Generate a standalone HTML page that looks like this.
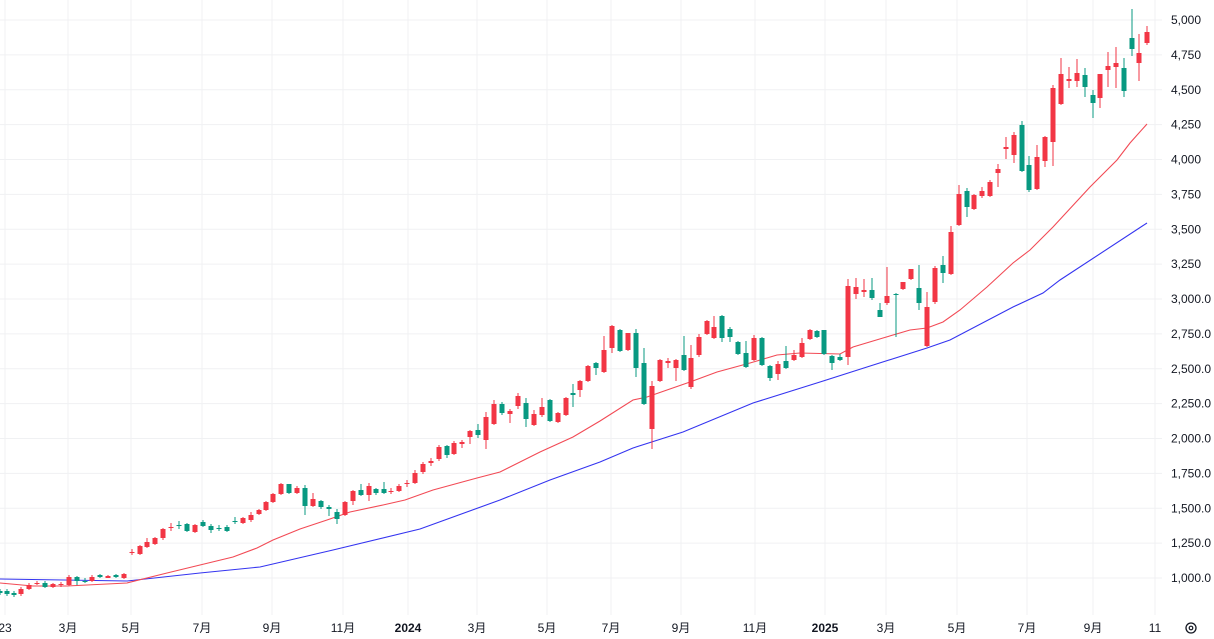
<!DOCTYPE html>
<html><head><meta charset="utf-8"><style>
html,body{margin:0;padding:0;background:#fff;width:1214px;height:639px;overflow:hidden}
svg{display:block}
text{font-family:"Liberation Sans","Noto Sans CJK SC",sans-serif;font-size:12px;fill:#131722}
</style></head><body>
<svg id="s" width="1214" height="639" xmlns="http://www.w3.org/2000/svg"></svg>
<script>
const S=document.getElementById('s');let h='';
const R='#f23645',G='#089981';
// horizontal grid + price labels
const pv=[5000,4750,4500,4250,4000,3750,3500,3250,3000,2750,2500,2250,2000,1750,1500,1250,1000];
pv.forEach(p=>{const y=20+(5000-p)*0.1395;h+=`<line x1="0" x2="1162" y1="${y}" y2="${y}" stroke="#f0f1f3"/>`;
let s=p.toLocaleString('en-US');if(p<=3000)s+='.0';h+=`<text x="1171" y="${y+4}">${s}</text>`;});
const ml=[[5,'23'],[68,'3月'],[131,'5月'],[202,'7月'],[272,'9月'],[343,'11月'],[408,'2024',1],[477,'3月'],[547,'5月'],[611,'7月'],[681,'9月'],[755,'11月'],[825,'2025',1],[886,'3月'],[957,'5月'],[1027,'7月'],[1093,'9月'],[1155,'11']];
ml.forEach(m=>{h+=`<line x1="${m[0]}" x2="${m[0]}" y1="0" y2="615" stroke="#f0f1f3"/>`;h+=`<text x="${m[0]}" y="632" text-anchor="middle"${m[2]?' font-weight="bold"':''}>${m[1]}</text>`;});
// candles [x,top,bot,wt,wb,c]
const C=[
[0,591,593,589,595,G],[7,591,594,589,596,G],[14,593,595,591,597,G],[21,589,594,587,596,R],[29,585,589,583,590,R],[37,583,584,581,585,R],[45,583,587,581,588,G],[53,584,587,583,588,R],[61,584,585,582,587,R],[69,577,585,575,586,R],[77,577,581,576,585,G],[85,581,582,578,583,G],[92,577,581,575,582,R],[100,575,577,574,578,G],[108,576,578,575,578,R],[116,575,577,574,578,G],[124,574,578,573,579,R],
[132,552,553,549,555,R],[140,546,554,545,555,R],[147,542,547,538,548,R],[155,538,544,537,545,R],[163,529,538,528,540,R],[171,527,528,523,531,R],[179,525,526,521,529,G],[187,524,531,523,532,G],[195,525,532,524,533,R],[203,522,526,520,527,G],[211,526,530,524,533,G],[219,528,529,525,531,G],[227,527,531,525,532,G],[235,521,522,517,524,G],[243,518,523,517,524,R],[251,515,520,512,522,R],[259,510,514,509,515,R],[266,502,510,501,511,R],[273,494,502,493,503,R],[281,484,494,483,495,R],[289,484,493,484,494,G],[297,488,493,486,494,R],[305,488,506,485,515,G],[313,499,506,493,507,R],[321,501,507,500,509,G],[329,507,509,505,516,G],[337,512,519,509,524,G],[345,502,515,501,516,R],[353,491,501,490,505,R],[361,490,495,484,496,G],[369,486,495,483,501,R],[376,489,493,488,495,G],[384,489,493,482,494,G],[391,491,492,488,494,R],[399,486,491,484,492,R],[407,483,484,480,487,R],[415,473,483,470,484,R],
[423,464,472,462,474,R],[431,461,463,458,466,R],[439,447,459,445,461,R],[447,446,455,445,458,G],[454,443,454,441,455,R],[462,442,444,440,448,R],[470,431,437,430,444,R],[478,430,435,424,438,G],[486,417,440,412,449,R],[494,404,424,400,425,R],[502,404,413,402,415,G],[510,411,414,409,423,R],[518,396,406,393,409,R],[526,403,419,398,427,G],[534,414,425,410,426,R],[542,407,415,398,417,R],[550,400,421,399,422,G],[558,413,422,412,423,R],[566,398,415,397,416,R],[573,393,395,384,407,G],[580,381,390,380,397,R],[588,366,381,365,382,R],[596,363,368,362,375,G],[604,350,372,336,373,R],[612,326,348,325,353,R],[620,330,351,329,352,G],[628,333,350,333,351,R],[636,333,368,329,377,G],[644,363,404,348,405,G],[652,386,429,381,449,R],[660,360,381,359,382,R],[668,361,363,358,368,R],[676,360,368,359,381,R],[684,355,370,336,371,G],[691,358,387,345,389,R],[699,337,355,334,357,R],[707,321,334,320,335,R],[714,327,338,316,339,R],[722,316,338,315,342,G],[730,329,337,327,342,G],[738,342,354,341,355,G],[746,353,367,341,368,G],[754,338,360,335,361,R],[762,338,365,337,366,G],[770,366,378,365,381,G],[778,364,374,361,380,R],[786,361,368,346,369,G],[794,355,360,350,361,R],[802,343,357,338,358,R],[810,330,339,329,340,R],[817,331,337,330,338,G],
[824,330,354,330,355,G],[832,356,363,355,370,G],[840,357,360,354,361,G],[848,286,357,279,365,R],[856,287,294,278,299,R],[864,290,292,279,297,R],[872,290,298,278,300,G],[880,310,317,303,317,G],[887,296,303,267,305,R],[896,294,295,293,337,G],[903,282,289,282,290,R],[911,269,279,269,280,R],[919,288,303,265,310,G],[927,307,346,292,347,R],[935,268,302,266,304,R],[943,265,273,256,283,G],[951,232,274,226,275,R],[959,194,225,185,226,R],[967,191,207,188,217,G],[974,195,209,194,210,R],[982,191,196,187,198,R],[990,182,196,180,197,R],[998,169,173,164,187,R],[1006,147,149,137,159,R],[1014,135,155,132,163,R],[1022,125,171,121,172,G],[1029,165,190,156,192,G],[1037,157,189,145,190,R],[1045,137,161,136,167,R],[1053,88,142,85,166,R],[1061,74,104,58,105,R],[1069,79,81,67,88,R],[1077,73,81,59,87,R],[1085,75,87,68,97,G],[1093,95,103,90,118,G],[1100,74,98,74,108,R],[1108,66,70,52,87,R],[1116,63,67,47,88,R],[1124,68,91,58,97,G],[1132,38,49,9,56,G],[1139,53,63,34,81,R],[1147,32,43,26,45,R]];
// MAs
const red=[[0,583],[33,586],[67,586],[127,583],[167,573],[200,565],[233,557],[257,548],[273,540],[300,529],[327,520],[350,512],[383,505],[405,500],[433,490],[477,478],[500,472],[540,452],[573,437],[600,421],[633,400],[647,397],[667,390],[690,382],[717,372],[750,363],[777,355],[800,353],[840,354],[853,347],[883,338],[910,330],[927,328],[943,322],[960,310],[987,287],[1013,263],[1030,250],[1053,227],[1090,187],[1117,160],[1130,143],[1147,124]];
const blue=[[0,579],[127,581],[200,573],[260,567],[333,550],[420,529],[500,500],[550,480],[600,462],[633,448],[683,432],[753,403],[820,382],[867,367],[927,348],[950,340],[1013,307],[1043,293],[1060,280],[1147,223]];
const pl=a=>a.map(p=>p.join(',')).join(' ');
h+=`<polyline points="${pl(blue)}" fill="none" stroke="#3434f0" stroke-width="1.1"/>`;
h+=`<polyline points="${pl(red)}" fill="none" stroke="#f24a55" stroke-width="1.1"/>`;
C.forEach(c=>{const [x,t,b,wt,wb,col]=c;h+=`<line x1="${x}" x2="${x}" y1="${wt}" y2="${wb}" stroke="${col}" stroke-width="1"/>`;
h+=`<rect x="${x-2.5}" y="${t}" width="5" height="${Math.max(1,b-t)}" fill="${col}"/>`;});
// gear icon
h+=`<circle cx="1191" cy="628" r="5" fill="none" stroke="#131722" stroke-width="1.3"/><circle cx="1191" cy="628" r="1.8" fill="none" stroke="#131722" stroke-width="1.2"/>`;
S.innerHTML=h;
</script>
</body></html>
